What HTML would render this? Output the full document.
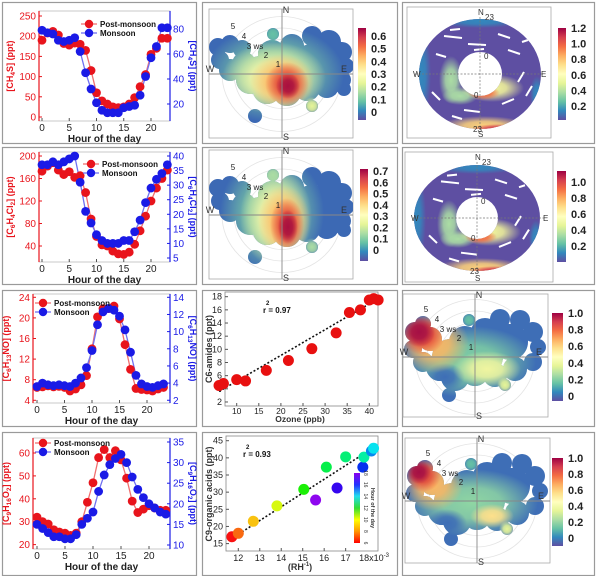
<!DOCTYPE html>
<html><head><meta charset="utf-8"><style>
html,body{margin:0;padding:0;background:#fff;}
svg{display:block;font-family:"Liberation Sans",Arial,sans-serif;}
</style></head><body>
<svg id="fig" width="600" height="576" viewBox="0 0 600 576" xmlns="http://www.w3.org/2000/svg">
<defs id="defs">
<linearGradient id="spec" x1="0" y1="0" x2="0" y2="1">
<stop offset="0" stop-color="#9e0142"/><stop offset="0.1" stop-color="#d53e4f"/><stop offset="0.2" stop-color="#f46d43"/><stop offset="0.3" stop-color="#fdae61"/><stop offset="0.4" stop-color="#fee08b"/><stop offset="0.5" stop-color="#ffffbf"/><stop offset="0.6" stop-color="#e6f598"/><stop offset="0.7" stop-color="#abdda4"/><stop offset="0.8" stop-color="#66c2a5"/><stop offset="0.9" stop-color="#3288bd"/><stop offset="1" stop-color="#5e4fa2"/>
</linearGradient>
<linearGradient id="rainbow" x1="0" y1="1" x2="0" y2="0">
<stop offset="0" stop-color="#ff0000"/><stop offset="0.17" stop-color="#ff9900"/><stop offset="0.33" stop-color="#ffff00"/><stop offset="0.5" stop-color="#33dd33"/><stop offset="0.67" stop-color="#22ddee"/><stop offset="0.83" stop-color="#2233ff"/><stop offset="1" stop-color="#8800ee"/>
</linearGradient>
</defs>
<g id="panels"></g>
</svg>
<script>
const NS='http://www.w3.org/2000/svg';
const svg=document.getElementById('fig');
const defs=document.getElementById('defs');

// ---------- data: diurnal panels ----------
const hours=[0,1,2,3,4,5,6,7,8,9,10,11,12,13,14,15,16,17,18,19,20,21,22,23];
const ch4sPost=[190,208,212,203,182,178,183,180,165,115,60,40,32,25,23,25,32,48,75,105,155,170,195,195];
const ch4sMon=[79,77,76,71,70,71,73,62,45,32,21,15,13,13,13,17,18,19,27,42,57,66,81,81];
const c6cl2Post=[173,182,188,175,167,172,162,165,135,88,57,42,40,31,26,25,29,43,67,93,120,143,160,175];
const c6cl2Mon=[37,37,38,37,38,39,40,31,21,17,13,11,10,10,10,11,11,14,18,24,29,32,34,37];
const c6noPost=[6.5,6.6,6.8,6.6,6.7,6.5,5.8,6.2,7.0,8.8,14,20.2,21.8,21.8,22.3,19.8,14.8,10,6.3,6.1,6,5.8,6.2,6.5];
const c6noMon=[3.6,4.0,3.8,3.7,3.8,3.7,3.6,4.0,4.6,5.8,7.8,10.8,12.3,12.7,12.5,11.8,10.2,7.6,4.9,3.9,3.6,3.5,3.7,3.9];
const c9o2Post=[32,30,29,26.5,25.5,25,24,25,30,38.5,47,58,61.5,58,61,57,49,39,34,35.5,37,36,35,35];
const c9o2Mon=[15,14,13,12,12,11.5,11.5,12.5,15,16.5,18,23,27,29.5,31,32,30,26.5,23.5,21.5,20,19,18,17.5];
const xTicks=[0,5,10,15,20];
const p1LeftTicks=[0,50,100,150,200,250];
const p1RightTicks=[20,40,60,80];
const p2LeftTicks=[40,80,120,160,200];
const p2RightTicks=[5,10,15,20,25,30,35,40];
const p3LeftTicks=[4,8,12,16,20,24];
const p3RightTicks=[2,4,6,8,10,12,14];
const p4LeftTicks=[20,30,40,50,60];
const p4RightTicks=[10,15,20,25,30,35];

// ---------- data: scatter panels ----------
const ozone=[6,7,10,12,16.7,21.7,27,32.5,35.5,38,40,41,42];
const amides=[4.5,4.8,5.4,5.2,6.8,8.3,10.1,12.5,15.6,16,17.5,17.7,17.5];
const ozoneTicks=[10,15,20,25,30,35,40];
const amideTicks=[2,4,6,8,10,12,14,16,18];
const invRH=[11.7,12,12.7,13.8,15.05,15.6,16.1,16.6,17,17.8,17.85,18.2,18.3];
const acids=[17,18,21.5,26,30.8,27.7,37.3,31.2,40.3,37.3,40.2,42,42.8];
const acidHour=[6,7,8,9,11,18,12,17,12.5,16,13,15,14];
const rhTicks=[12,13,14,15,16,17];
const acidTicks=[15,20,25,30,35,40,45];
const hourBarTicks=[6,8,10,12,14,16,18];

function mk(tag,attrs,parent){const el=document.createElementNS(NS,tag);for(const k in attrs)el.setAttribute(k,attrs[k]);(parent||svg).appendChild(el);return el;}
function txt(s,attrs,parent){const t=mk('text',attrs,parent);t.textContent=s;return t;}
const gradCache={};
function rg(color){
  if(gradCache[color])return gradCache[color];
  const id='rg'+Object.keys(gradCache).length;
  const g=mk('radialGradient',{id:id},defs);
  mk('stop',{offset:0,'stop-color':color,'stop-opacity':1},g);
  mk('stop',{offset:0.45,'stop-color':color,'stop-opacity':0.85},g);
  mk('stop',{offset:1,'stop-color':color,'stop-opacity':0},g);
  gradCache[color]='url(#'+id+')';
  return gradCache[color];
}

// panel borders
const borders=[[2,2,194,141],[202,2,195,141],[402,2,192,141],[2,147,194,137],[202,147,195,137],[402,147,192,137],[2,290,194,136],[202,290,195,136],[402,290,192,136],[2,432,194,143],[202,432,195,143],[402,432,192,143]];
borders.forEach(b=>{const r=mk('rect',{x:b[0]+0.5,y:b[1]+0.5,width:b[2],height:b[3],fill:'none',stroke:'#9a9a9a','stroke-width':1.2});

});

function drawDiurnal(c){
  const g=mk('g',{});
  
  
  const X=h=>c.x0+c.kx*h, YL=v=>c.yl0-c.kl*(v-c.vl0), YR=v=>c.yr0-c.kr*(v-c.vr0);
  mk('rect',{x:c.L,y:c.T,width:c.R-c.L,height:c.B-c.T,fill:'none',stroke:'#bbb','stroke-width':0.8},g);
  const la=mk('line',{x1:c.L,y1:c.T,x2:c.L,y2:c.B,stroke:'#e8141c','stroke-width':1.2},g);
  
  
  const ra=mk('line',{x1:c.R,y1:c.T,x2:c.R,y2:c.B,stroke:'#1a1ae6','stroke-width':1.2},g);
  
  
  c.lt.forEach(v=>{const y=YL(v);mk('line',{x1:c.L,y1:y,x2:c.L+3,y2:y,stroke:'#e8141c'},g);
    const t=txt(String(v),{x:c.L-3,y:y+3.5,'text-anchor':'end','font-size':10,fill:'#e8141c'},g);
    
    });
  c.rt.forEach(v=>{const y=YR(v);mk('line',{x1:c.R-3,y1:y,x2:c.R,y2:y,stroke:'#1a1ae6'},g);
    const t=txt(String(v),{x:c.R+3,y:y+3.5,'font-size':10,fill:'#1a1ae6'},g);
    
    });
  xTicks.forEach(h=>{const x=X(h);mk('line',{x1:x,y1:c.B,x2:x,y2:c.B-3,stroke:'#555'},g);
    const t=txt(String(h),{x:x,y:c.B+10,'text-anchor':'middle','font-size':10,fill:'#222'},g);
    
    });
  const xt=txt('Hour of the day',{x:(c.L+c.R)/2,y:c.B+21,'text-anchor':'middle','font-size':10,'font-weight':'bold',fill:'#222'},g);
  
  
  const series=[[c.post,YL,'#e8141c','#f07070'],[c.mon,YR,'#1a1ae6','#7070f0']];
  series.forEach((s,i)=>{
    const pts=hours.map((h,j)=>X(h)+','+s[1](s[0][j])).join(' ');
    const pl=mk('polyline',{points:pts,fill:'none',stroke:s[3],'stroke-width':1.3},g);
    
    
  });
  series.forEach((s,i)=>{
    hours.forEach((h,j)=>{const p=mk('circle',{cx:X(h),cy:s[1](s[0][j]),r:4.4,fill:s[2]},g);
      
      });
  });
  [['Post-monsoon','#e8141c','#f07070',0],['Monsoon','#1a1ae6','#7070f0',9]].forEach(l=>{
    const y=c.legY+l[3];
    mk('line',{x1:c.legX-8,y1:y,x2:c.legX+8,y2:y,stroke:l[2],'stroke-width':1.3},g);
    mk('circle',{cx:c.legX,cy:y,r:4.2,fill:l[1]},g);
    const t=txt(l[0],{x:c.legX+11,y:y+3,'font-size':8,'font-weight':'bold',fill:'#111'},g);
    
    
  });
  const lt=mk('text',{transform:`translate(${c.ltx},${(c.T+c.B)/2}) rotate(-90)`,'text-anchor':'middle','font-size':9,'font-weight':'bold',fill:'#e8141c'},g);
  
  
  const rt=mk('text',{transform:`translate(${c.rtx},${(c.T+c.B)/2}) rotate(90)`,'text-anchor':'middle','font-size':9,'font-weight':'bold',fill:'#1a1ae6'},g);
  
  
  [lt,rt].forEach(t=>{c.title.forEach(p=>{const s=mk('tspan',p[1]?{'font-size':6.5,'baseline-shift':'-2'}:{},t);s.textContent=p[0];});});
}

drawDiurnal({name:'ch4s-diurnal-chart',L:39,R:170,T:11,B:121,x0:42,kx:5.45,yl0:117,kl:0.404,vl0:0,yr0:104,kr:1.25,vr0:20,lt:p1LeftTicks,rt:p1RightTicks,post:ch4sPost,mon:ch4sMon,legX:89,legY:24,ltx:13,rtx:190,title:[['[CH'],['4',1],['S] (ppt)']]});
drawDiurnal({name:'c6h4cl2-diurnal-chart',L:39,R:170,T:152,B:262,x0:42,kx:5.45,yl0:156,kl:0.5625,vl0:200,yr0:156,kr:2.914,vr0:40,lt:p2LeftTicks,rt:p2RightTicks,post:c6cl2Post,mon:c6cl2Mon,legX:91,legY:164,ltx:13,rtx:190,title:[['[C'],['6',1],['H'],['4',1],['Cl'],['2',1],['] (ppt)']]});
drawDiurnal({name:'c6h13no-diurnal-chart',L:33,R:170,T:294,B:403,x0:37,kx:5.5,yl0:297.3,kl:5.15,vl0:24,yr0:297.3,kr:8.58,vr0:14,lt:p3LeftTicks,rt:p3RightTicks,post:c6noPost,mon:c6noMon,legX:43,legY:303,ltx:9,rtx:190,title:[['[C'],['6',1],['H'],['13',1],['NO] (ppt)']]});
drawDiurnal({name:'c9h16o2-diurnal-chart',L:33,R:170,T:438,B:549,x0:37,kx:5.6,yl0:453,kl:2.29,vl0:60,yr0:442,kr:4.12,vr0:35,lt:p4LeftTicks,rt:p4RightTicks,post:c9o2Post,mon:c9o2Mon,legX:43,legY:443,ltx:9,rtx:190,title:[['[C'],['9',1],['H'],['16',1],['O'],['2',1],['] (ppt)']]});

// ---------- scatter 1 ----------
(function(){
  const g=mk('g',{});
  
  
  const L=225,R=378,T=292,B=406;
  const X=v=>236.7+4.42*(v-10), Y=v=>296.7-6.58*(v-18);
  mk('rect',{x:L,y:T,width:R-L,height:B-T,fill:'none',stroke:'#888','stroke-width':0.8},g);
  ozoneTicks.forEach(v=>{mk('line',{x1:X(v),y1:B,x2:X(v),y2:B-3,stroke:'#555'},g);
    const t=txt(String(v),{x:X(v),y:B+8,'text-anchor':'middle','font-size':8.5,fill:'#222'},g);
    
    });
  amideTicks.forEach(v=>{mk('line',{x1:L,y1:Y(v),x2:L+3,y2:Y(v),stroke:'#555'},g);
    const t=txt(String(v),{x:L-3,y:Y(v)+3,'text-anchor':'end','font-size':9,fill:'#222'},g);
    
    });
  const xt=txt('Ozone (ppb)',{x:300,y:422,'text-anchor':'middle','font-size':8.5,'font-weight':'bold',fill:'#333'},g);
  
  
  const yt=txt('C6-amides (ppt)',{transform:'translate(212,349) rotate(-90)','text-anchor':'middle','font-size':9,'font-weight':'bold',fill:'#333'},g);
  
  
  const fl=mk('line',{x1:X(6),y1:Y(3.6),x2:X(41),y2:Y(17.3),stroke:'#111','stroke-width':1.6,'stroke-dasharray':'2,2'},g);
  
  
  ozone.forEach((v,i)=>{const p=mk('circle',{cx:X(v),cy:Y(amides[i]),r:5.5,fill:'#e81010'},g);
    
    });
  const r2=mk('text',{x:265,y:312,'font-size':8,'font-weight':'bold',fill:'#111'},g);
  r2.innerHTML='<tspan x="266" y="305" font-size="6">2</tspan><tspan x="263" y="313">r  = 0.97</tspan>';
  
  
})();

// ---------- scatter 2 ----------
function hourColor(h){const t=Math.max(0,Math.min(1,(h-6)/12));return 'hsl('+(t*275)+',95%,'+(t<0.3?52:48)+'%)';}
(function(){
  const g=mk('g',{});
  
  
  const L=226,R=378,T=436,B=551;
  const X=v=>238.3+21.47*(v-12), Y=v=>440.7-3.43*(v-45);
  mk('rect',{x:L,y:T,width:R-L,height:B-T,fill:'none',stroke:'#888','stroke-width':0.8},g);
  rhTicks.forEach(v=>{mk('line',{x1:X(v),y1:B,x2:X(v),y2:B-3,stroke:'#555'},g);
    const t=txt(String(v),{x:X(v),y:B+10,'text-anchor':'middle','font-size':9,fill:'#222'},g);
    
    });
  const xe=txt('18x10',{x:X(18)-8,y:B+10,'font-size':9,fill:'#222'},g);
  xe.innerHTML='18x10<tspan font-size="6" dy="-4">-3</tspan>';
  
  
  acidTicks.forEach(v=>{mk('line',{x1:L,y1:Y(v),x2:L+3,y2:Y(v),stroke:'#555'},g);
    const t=txt(String(v),{x:L-3,y:Y(v)+3,'text-anchor':'end','font-size':9,fill:'#222'},g);
    
    });
  const xt=mk('text',{x:300,y:570,'text-anchor':'middle','font-size':9,'font-weight':'bold',fill:'#333'},g);
  xt.innerHTML='(RH<tspan font-size="6" dy="-4">-1</tspan><tspan dy="4">)</tspan>';
  
  
  const yt=txt('C9-organic acids (ppt)',{transform:'translate(212,494) rotate(-90)','text-anchor':'middle','font-size':9,'font-weight':'bold',fill:'#333'},g);
  
  
  const fl=mk('line',{x1:X(11.7),y1:Y(16.5),x2:X(18.3),y2:Y(43),stroke:'#111','stroke-width':1.6,'stroke-dasharray':'2,2'},g);
  
  
  invRH.forEach((v,i)=>{const p=mk('circle',{cx:X(v),cy:Y(acids[i]),r:5.5,fill:hourColor(acidHour[i])},g);
    
    });
  const r2=mk('text',{x:0,y:0,'font-size':8,'font-weight':'bold',fill:'#111'},g);
  r2.innerHTML='<tspan x="246" y="449" font-size="6">2</tspan><tspan x="243" y="457">r  = 0.93</tspan>';
  
  
  const cb=mk('rect',{x:354,y:473,width:6,height:70,fill:'url(#rainbow)'},g);
  
  
  hourBarTicks.forEach(h=>{const y=543-70*(h-6)/12;
    const t=txt(String(h),{transform:`translate(364,${y}) rotate(90)`,'text-anchor':'middle','font-size':5,fill:'#333'},g);
    
    });
  const ct=txt('Hour of the day',{transform:'translate(371,508) rotate(90)','text-anchor':'middle','font-size':5.5,'font-weight':'bold',fill:'#333'},g);
  
  
})();

// ---------- polar plots ----------
let clipN=0;
function colorbar(x,y,w,h,labels,topVal,botVal,yTop,yBot,name){
  const g=mk('g',{});
  
  
  mk('rect',{x:x,y:y,width:w,height:h,fill:'url(#spec)'},g);
  labels.forEach(v=>{const yy=yTop+(yBot-yTop)*(topVal-v)/(topVal-botVal);
    const t=txt(v==0?'0':v.toFixed(1),{x:x+w+5,y:yy+4,'font-size':11,'font-weight':'bold',fill:'#222'},g);
    
    });
}
function polarAxes(g,cx,cy,box,lbl){
  mk('line',{x1:box[0],y1:cy,x2:box[2],y2:cy,stroke:'#888','stroke-width':0.9},g);
  mk('line',{x1:cx,y1:box[1],x2:cx,y2:box[3],stroke:'#888','stroke-width':0.9},g);
  [['N',cx+4,box[1]+4],['S',cx+4,box[3]+2],['W',box[0]+1,cy-2],['E',box[2]-9,cy-2]].forEach(d=>{
    const t=txt(d[0],{x:d[1],y:d[2],'font-size':9,fill:'#333','text-anchor':'middle'},g);
    
    });
  if(lbl){[['1',-4,-7],['2',-16,-16],['3 ws',-27,-25],['4',-38,-35],['5',-49,-45]].forEach(d=>{
    const t=txt(d[0],{x:cx+d[1],y:cy+d[2],'font-size':8,fill:'#222','text-anchor':'middle'},g);
    
    });}
}
function polarBlob(name,cx,cy,box,shape,base,blobs){
  const g=mk('g',{});
  
  
  mk('rect',{x:box[0],y:box[1],width:box[2]-box[0],height:box[3]-box[1],fill:'#fff',stroke:'#aaa','stroke-width':0.8},g);
  for(let i=1;i<=5;i++)mk('ellipse',{cx:cx,cy:cy,rx:12*i,ry:11.5*i,fill:'none',stroke:'#e4e4e4','stroke-width':0.8},g);
  const id='clip'+(clipN++);
  const cp=mk('clipPath',{id:id},g);
  shape.forEach(s=>mk('circle',{cx:cx+s[0],cy:cy+s[1],r:s[2]},cp));
  const inner=mk('g',{'clip-path':`url(#${id})`},g);
  mk('rect',{x:box[0],y:box[1],width:box[2]-box[0],height:box[3]-box[1],fill:base},inner);
  blobs.forEach(b=>mk('ellipse',{cx:cx+b[0],cy:cy+b[1],rx:b[2],ry:b[3],fill:rg(b[4])},inner));
  polarAxes(g,cx,cy,box,true);
}
const shapeA=[[-64,-27,9],[-52,-30,9],[-40,-25,9],[-62,-14,9],[-52,-4,11],[-38,-10,12],[-32,6,14],[-15,16,14],[5,18,14],[25,14,13],[45,12,12],[60,6,9],[64,-8,8],[60,-22,10],[47,-32,12],[30,-38,10],[10,-28,12],[-10,-20,14],[5,-5,22],[30,-10,20],[-22,-2,16],[50,-10,14],[62,15,7],[-9,-40,6],[-27,42,7],[30,32,6]];
polarBlob('wind-polar-plot-row1',282,74,[209,9,353,138],shapeA,'#3c69b4',[[-8,0,70,48,'#7fcfa3'],[-8,4,52,36,'#f5f7a8'],[0,8,32,28,'#fdb863'],[5,10,22,22,'#e0473a'],[6,12,12,13,'#a8103f'],[30,32,9,9,'#e6f598'],[-9,-40,9,9,'#66c2a5']]);
colorbar(358,28,8,92,[0,0.1,0.2,0.3,0.4,0.5,0.6],0.6,0,36,112,'colorbar-row1-middle');
polarBlob('wind-polar-plot-row2',282,215,[209,150,353,279],shapeA,'#3c69b4',[[-10,-2,52,60,'#7fcfa3'],[-6,2,36,50,'#f5f7a8'],[2,6,26,36,'#fdb863'],[5,10,17,27,'#e0473a'],[6,12,10,17,'#a8103f'],[30,32,9,9,'#abdda4'],[-9,-40,9,9,'#abdda4']]);
colorbar(360,169,8,92,[0,0.1,0.2,0.3,0.4,0.5,0.6,0.7],0.7,0,171,250,'colorbar-row2-middle');

const shapeB=[[-60,-25,10],[-52,-33,8],[-45,-18,12],[-62,-8,9],[-52,5,10],[-35,10,14],[-20,20,14],[0,15,14],[20,18,12],[40,12,12],[58,5,9],[63,-10,8],[58,-25,10],[45,-37,10],[25,-38,10],[10,-25,14],[-10,-15,16],[10,0,18],[35,-15,18],[-25,0,18],[-6,-37,6],[-26,38,7],[30,28,6]];
polarBlob('wind-polar-plot-row3',475,357,[403,294,548,417],shapeB,'#3e6eb6',[[-5,5,66,36,'#7fcfa3'],[-30,20,20,14,'#3e6eb6'],[12,12,34,18,'#f0f5a0'],[-42,-14,36,30,'#fdb863'],[-52,-22,22,20,'#e0473a'],[-56,-25,16,15,'#a50f45'],[30,28,8,8,'#e6f598'],[-6,-37,8,8,'#66c2a5']]);
colorbar(552,313,11,88,[0,0.2,0.4,0.6,0.8,1.0],1,0,313,396,'colorbar-row3-right');
polarBlob('wind-polar-plot-row4',477,501,[405,438,550,563],shapeB,'#3e6eb6',[[-5,2,66,34,'#8fd6a3'],[-30,22,20,14,'#3e6eb6'],[15,15,22,12,'#fee08b'],[-44,-16,30,26,'#fdb863'],[-54,-26,18,17,'#e0473a'],[-58,-29,12,12,'#a50f45'],[30,28,8,8,'#e6f598'],[-6,-37,8,8,'#66c2a5']]);
colorbar(552,458,11,88,[0,0.2,0.4,0.6,0.8,1.0],1,0,458,538,'colorbar-row4-right');

// annulus (time-of-day polar)
const whiteStrips=[[-36,-38,-18,-36],[-12,-30,6,-29],[18,-40,30,-36],[28,-24,40,-20],[-44,-20,-34,-17],[-48,18,-40,26],[-16,36,0,38],[22,30,34,25],[38,8,44,-2],[-6,-24,4,-25],[46,22,52,12],[-28,42,-18,45],[42,-32,48,-34],[-30,-44,-20,-45]];
function annulus(name,cx,cy,box,rx,ry,ir){
  const g=mk('g',{});
  
  
  mk('rect',{x:box[0],y:box[1],width:box[2]-box[0],height:box[3]-box[1],fill:'#fff',stroke:'#aaa','stroke-width':0.8},g);
  const id='clip'+(clipN++);
  const cp=mk('clipPath',{id:id},g);
  mk('path',{d:`M${cx-rx},${cy}a${rx},${ry} 0 1,0 ${2*rx},0a${rx},${ry} 0 1,0 ${-2*rx},0ZM${cx-ir},${cy}a${ir},${ir} 0 1,1 ${2*ir},0a${ir},${ir} 0 1,1 ${-2*ir},0Z`,'clip-rule':'evenodd'},cp);
  const inner=mk('g',{'clip-path':`url(#${id})`},g);
  mk('rect',{x:box[0],y:box[1],width:box[2]-box[0],height:box[3]-box[1],fill:'#5e4fa2'},inner);
  const blobs=[[-rx+2,0,10,46,'#3288bd'],[0,-ry+2,42,7,'#3288bd'],[-ir-7,6,12,24,'#abdda4'],[-ir+2,ir,18,9,'#abdda4'],[12,14,32,14,'#f4f79a'],[4,19,16,7,'#f46d43'],[4,ry-3,44,10,'#fdd27a'],[18,ry,26,5,'#d53e4f'],[rx-4,20,7,18,'#3288bd']];
  blobs.forEach(b=>mk('ellipse',{cx:cx+b[0],cy:cy+b[1],rx:b[2],ry:b[3],fill:rg(b[4])},inner));
  whiteStrips.forEach(s=>mk('line',{x1:cx+s[0],y1:cy+s[1]*ry/55,x2:cx+s[2],y2:cy+s[3]*ry/55,stroke:'#fff','stroke-width':2},inner));
  mk('line',{x1:box[0]+8,y1:cy,x2:box[2]-8,y2:cy,stroke:'#777','stroke-width':0.7,'stroke-dasharray':'2,1.5'},g);
  mk('line',{x1:cx,y1:box[1]+10,x2:cx,y2:box[3]-8,stroke:'#777','stroke-width':0.7,'stroke-dasharray':'2,1.5'},g);
  [['N',cx-2,box[1]+8],['S',cx-2,box[3]-1],['W',box[0]+6,cy+3],['E',box[2]-10,cy+3],['23',cx+5,box[1]+13],['23',cx-7,cy+ry+3],['0',cx+4,cy-ir+7],['0',cx-6,cy+ir+2]].forEach(d=>{
    const t=txt(d[0],{x:d[1],y:d[2],'font-size':8,fill:'#333'},g);
    
    });
}
annulus('hour-polar-plot-row1',480,74,[407,7,551,138],61,55,22);
colorbar(558,28,8,92,[0.2,0.4,0.6,0.8,1.0,1.2],1.2,0.2,28,106,'colorbar-row1-right');
annulus('hour-polar-plot-row2',477,218,[405,152,553,282],63,53,21);
colorbar(557,171,9,91,[0.2,0.4,0.6,0.8,1.0],1.0,0.2,182,246,'colorbar-row2-right');
</script>
</body></html>
